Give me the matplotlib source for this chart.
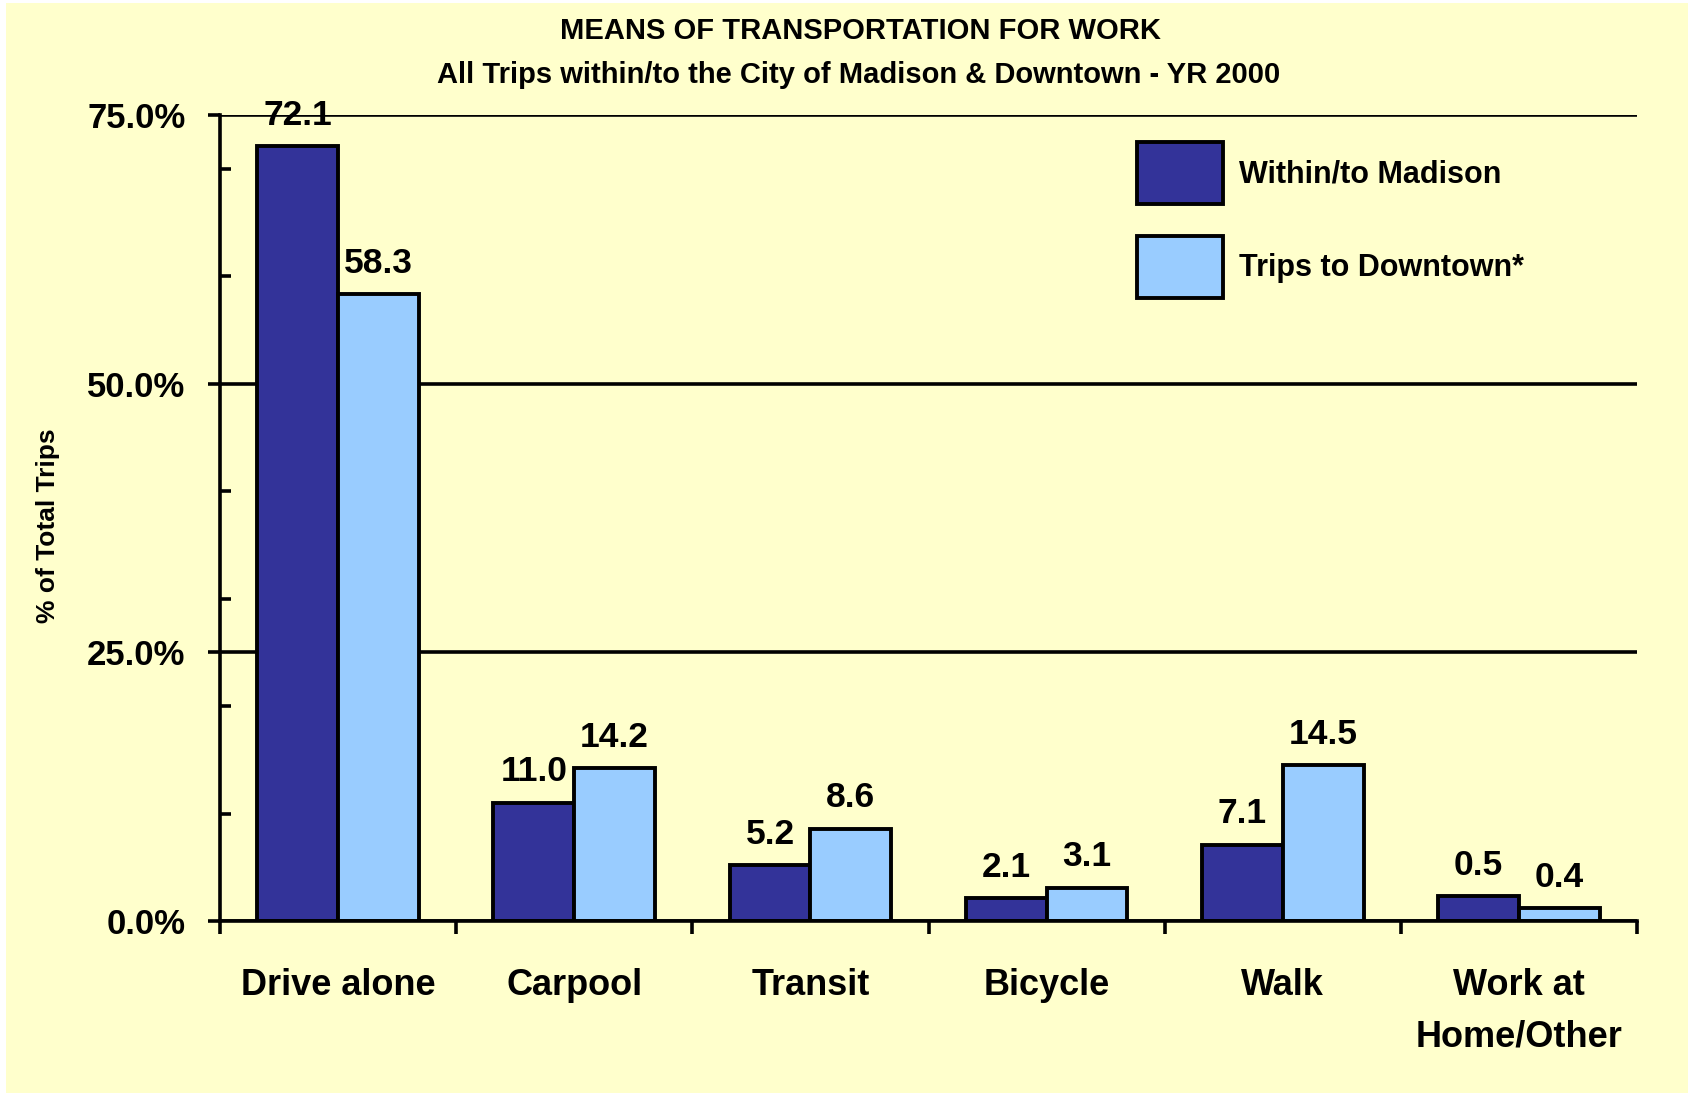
import matplotlib
matplotlib.use("Agg")
import matplotlib.pyplot as plt
from matplotlib.patches import Rectangle
import numpy as np

categories = ["Drive alone", "Carpool", "Transit", "Bicycle", "Walk", "Work at\nHome/Other"]
series_names = ["Within/to Madison", "Trips to Downtown*"]
madison_values = [72.1, 11.0, 5.2, 2.1, 7.1, 2.3]
downtown_values = [58.3, 14.2, 8.6, 3.1, 14.5, 1.2]
madison_labels = ["72.1", "11.0", "5.2", "2.1", "7.1", "0.5"]
downtown_labels = ["58.3", "14.2", "8.6", "3.1", "14.5", "0.4"]
y_ticks = [0, 25, 50, 75]
y_tick_labels = ["0.0%", "25.0%", "50.0%", "75.0%"]
title_line1 = "MEANS OF TRANSPORTATION FOR WORK"
title_line2 = "All Trips within/to the City of Madison & Downtown - YR 2000"
y_label = "% of Total Trips"

DARK = "#333399"
LIGHT = "#99CCFF"
BG = "#FFFFCC"
FONT = ["Liberation Sans", "DejaVu Sans"]
plt.rcParams["font.family"] = FONT
plt.rcParams["font.weight"] = "bold"

W, H = 1688, 1093
fig = plt.figure(figsize=(W / 100, H / 100), dpi=100, facecolor="white")
fig.patches.append(Rectangle((6 / W, 0), 1, 1 - 3 / H, transform=fig.transFigure,
                             facecolor=BG, edgecolor="none", zorder=-10))

ax = fig.add_axes([220 / W, 1 - 921 / H, (1637 - 220) / W, (921 - 115) / H])
ax.set_facecolor(BG)
ax.patch.set_alpha(0)

x = np.arange(len(categories))
bw = 0.342
lw = 2.8
b1 = ax.bar(x, madison_values, width=-bw, align="edge", color=DARK, edgecolor="black",
            linewidth=lw, label=series_names[0], zorder=3)
b2 = ax.bar(x, downtown_values, width=bw, align="edge", color=LIGHT, edgecolor="black",
            linewidth=lw, label=series_names[1], zorder=3)
ax.bar_label(b1, labels=madison_labels, padding=10.5, fontsize=25.5, fontweight="bold", zorder=4)
ax.bar_label(b2, labels=downtown_labels, padding=10.5, fontsize=25.5, fontweight="bold", zorder=4)

ax.set_xlim(-0.5, len(categories) - 0.5)
ax.set_ylim(0, 75)

for s in ["top", "right"]:
    ax.spines[s].set_visible(False)
for s in ["left", "bottom"]:
    ax.spines[s].set_linewidth(2.6)
    ax.spines[s].set_zorder(5)

# y axis
ax.set_yticks(y_ticks)
ax.set_yticklabels(y_tick_labels, fontsize=25, fontweight="bold")
ax.set_yticks(np.arange(10, 75, 10), minor=True)
ax.tick_params(axis="y", which="major", direction="out", length=9, width=2.6, pad=16)
ax.tick_params(axis="y", which="minor", direction="in", length=8, width=2.6)
ax.yaxis.grid(True, which="major", color="black", linewidth=2.6, zorder=1)
ax.set_axisbelow(True)

# x axis: ticks at slot boundaries, labels at centers
ax.set_xticks(np.arange(-0.5, len(categories), 1.0))
ax.set_xticklabels([])
ax.set_xticks(x, minor=True)
ax.set_xticklabels(categories, minor=True, fontsize=26, fontweight="bold", linespacing=1.6)
ax.tick_params(axis="x", which="major", direction="out", length=9, width=2.6)
ax.tick_params(axis="x", which="minor", length=0, pad=34)
ax.xaxis.grid(False)

ax.set_ylabel(y_label, fontsize=19, fontweight="bold")
ax.yaxis.set_label_coords((60 - 220) / 1417, (921 - 526) / 806)

leg = ax.legend(loc="upper left", bbox_to_anchor=((1137 - 220) / 1417, (921 - 142) / 806),
                frameon=False, handlelength=2.8, handleheight=2.75,
                labelspacing=1.05, handletextpad=0.55, borderpad=0, borderaxespad=0,
                prop={"weight": "bold", "size": 22})

fig.text(861 / W, 1 - 31 / H, title_line1, ha="center", va="center", fontsize=21, fontweight="bold")
fig.text(859 / W, 1 - 75 / H, title_line2, ha="center", va="center", fontsize=21, fontweight="bold")

fig.savefig("out.png", dpi=100, facecolor=fig.get_facecolor())
